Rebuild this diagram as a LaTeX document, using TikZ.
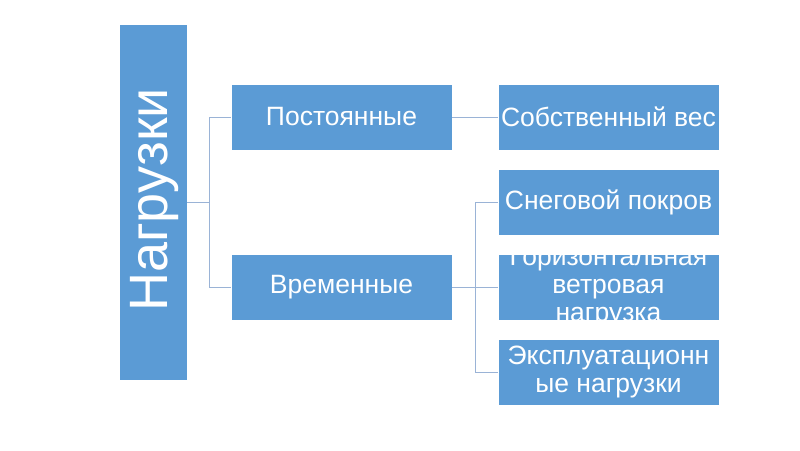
\documentclass[tikz,border=0pt]{standalone}
\usepackage{fontspec}
\setmainfont{Liberation Sans}
\definecolor{boxblue}{HTML}{5B9BD5}
\definecolor{linkc}{HTML}{9AB3D6}
\begin{document}
\begin{tikzpicture}[x=1pt,y=-1pt,
  box/.style={draw=white, line width=0.8pt, fill=boxblue, text=white, inner sep=0pt,
    minimum width=221pt, minimum height=66pt, align=center,
    font=\fontsize{26.5}{28}\selectfont},
  boxtext/.style={text=white, inner sep=0pt, align=center,
    font=\fontsize{26.5}{28}\selectfont},
  rootbox/.style={draw=white, line width=0.8pt, fill=boxblue, text=white, inner sep=0pt,
    minimum width=68pt, minimum height=356pt},
  link/.style={draw=linkc, line width=1pt}]
\useasboundingbox (0,0) rectangle (800,450);
\fill[white] (0,0) rectangle (800,450);
\node[rootbox] (root) at (153,202) {};
\node[text=white, rotate=90, inner sep=0pt, font=\fontsize{54}{60}\selectfont] (roott) at (154.5,200) {Нагрузки};
\node[box] (p1) at (341.5,117) {Постоянные};
\node[box] (p2) at (341.5,287) {Временные};
\node[box] (c1) at (608.5,117) {Собственный вес};
\node[box] (c2) at (608.5,202) {Снеговой покров};
\node[box] (c3) at (608.5,287) {};
\node[boxtext] (c3t) at (608.5,287) {Горизонтальная\\ветровая\\нагрузка};
\node[box] (c4) at (608.5,372) {Эксплуатационн\\ые нагрузки};
\coordinate (j1) at (209,202);
\coordinate (j2) at (475.5,287);
\draw[link] (root.east) -- (j1) |- (p1.west);
\draw[link] (j1) |- (p2.west);
\draw[link] (p1.east) -- (c1.west);
\draw[link] (p2.east) -- (j2) |- (c2.west);
\draw[link] (j2) -- (c3.west);
\draw[link] (j2) |- (c4.west);
\end{tikzpicture}
\end{document}
